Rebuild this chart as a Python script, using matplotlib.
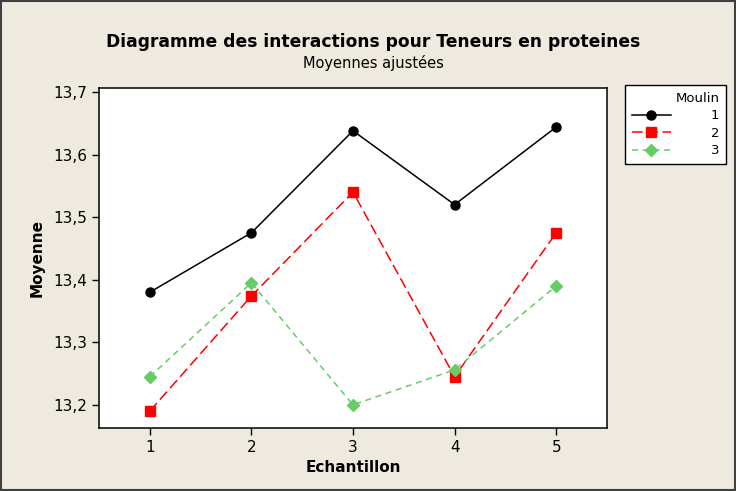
import matplotlib.pyplot as plt
from matplotlib.patches import Rectangle

# Data
echantillon = [1, 2, 3, 4, 5]
moulin_1 = [13.380, 13.475, 13.638, 13.520, 13.644]
moulin_2 = [13.190, 13.374, 13.540, 13.245, 13.475]
moulin_3 = [13.245, 13.395, 13.200, 13.256, 13.390]
y_ticks = [13.2, 13.3, 13.4, 13.5, 13.6, 13.7]
y_labels = ['13,2', '13,3', '13,4', '13,5', '13,6', '13,7']

bg = '#eeeae0'
plt.rcParams['font.family'] = ['DejaVu Sans']

fig = plt.figure(figsize=(7.36, 4.91), dpi=100, facecolor=bg)
ax = fig.add_axes([99 / 736, 1 - 428 / 491, 508 / 736, 340 / 491])

ax.plot(echantillon, moulin_1, color='black', marker='o', markersize=6.5,
        linewidth=1.1, label='1')
ax.plot(echantillon, moulin_2, color='#ff0000', marker='s', markersize=6.5,
        linewidth=1.1, dashes=(7, 3), label='2')
ax.plot(echantillon, moulin_3, color='#66cc66', marker='D', markersize=6,
        linewidth=1.1, dashes=(4, 3), label='3')

ax.set_xlim(0.5, 5.5)
ax.set_ylim(13.163, 13.7064)
ax.set_xticks(echantillon)
ax.set_yticks(y_ticks)
ax.set_yticklabels(y_labels)
ax.tick_params(labelsize=11, length=5, width=1, colors='black')
for s in ax.spines.values():
    s.set_linewidth(1.1)

ax.set_xlabel('Echantillon', fontsize=11, fontweight='bold', labelpad=4)
ax.set_ylabel('Moyenne', fontsize=11, fontweight='bold', labelpad=6)

fig.text(373 / 736, 1 - 42 / 491, 'Diagramme des interactions pour Teneurs en proteines',
         ha='center', va='center', fontsize=12.3, fontweight='bold')
fig.text(373 / 736, 1 - 63 / 491, 'Moyennes ajustées', ha='center', va='center', fontsize=10.5)

leg = ax.legend(title='Moulin', loc='upper left', bbox_to_anchor=(625 / 736, 1 - 85 / 491),
                bbox_transform=fig.transFigure, fontsize=9.5, title_fontsize=9.5,
                frameon=True, fancybox=False, edgecolor='black', framealpha=1,
                handlelength=3.0, handletextpad=3.0, borderpad=0.5, borderaxespad=0,
                labelspacing=0.35, alignment='right')
leg.get_frame().set_linewidth(1)

fig.patches.append(Rectangle((0.002, 0.002), 0.996, 0.996, transform=fig.transFigure,
                             fill=False, edgecolor='#404040', linewidth=1.5))

fig.savefig('out.png', dpi=100, facecolor=bg)
